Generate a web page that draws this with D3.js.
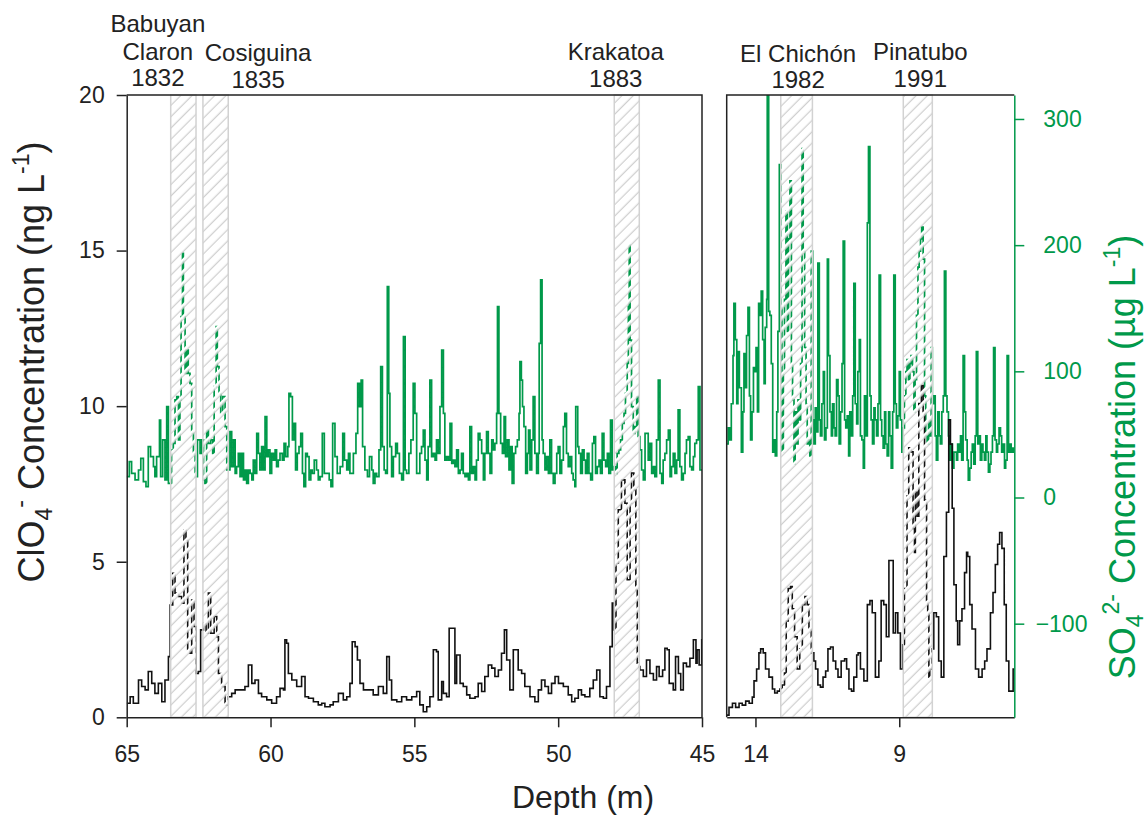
<!DOCTYPE html>
<html><head><meta charset="utf-8">
<script src="https://cdn.jsdelivr.net/npm/d3@7"></script>
<style>body{margin:0;background:#fff} text{font-family:"Liberation Sans",Arial,sans-serif}</style>
</head><body>
<svg id="c" width="1147" height="815"></svg>
<script>
// ---------- DATA ----------
// Left panel (depth 65-45 m): perchlorate (ng/L)
const leftDepthClO4 = [65.00,64.88,64.77,64.59,64.48,64.36,64.25,64.13,64.02,63.90,63.78,63.67,63.55,63.49,63.40,63.32,63.20,63.09,63.01,62.94,62.88,62.80,62.74,62.66,62.59,62.51,62.43,62.33,62.24,62.16,62.08,61.96,61.87,61.81,61.70,61.58,61.47,61.35,61.23,61.06,60.89,60.77,60.65,60.54,60.42,60.31,60.13,59.96,59.79,59.67,59.55,59.50,59.44,59.38,59.26,59.09,58.92,58.80,58.68,58.51,58.34,58.22,58.11,57.93,57.82,57.64,57.47,57.35,57.24,57.16,57.06,56.98,56.89,56.77,56.60,56.43,56.25,56.08,55.96,55.87,55.79,55.61,55.44,55.27,55.09,
54.92,54.81,54.69,54.57,54.46,54.34,54.23,54.17,54.05,53.99,53.88,53.79,53.67,53.59,53.53,53.41,53.30,53.18,53.07,52.89,52.78,52.66,52.55,52.43,52.31,52.20,52.08,51.97,51.87,51.79,51.68,51.56,51.47,51.39,51.27,51.16,50.98,50.81,50.69,50.58,50.46,50.34,50.23,50.11,49.99,49.82,49.65,49.53,49.42,49.30,49.19,49.07,48.90,48.78,48.66,48.55,48.43,48.32,48.20,48.12,48.06,47.99,47.91,47.80,47.68,47.60,47.50,47.45,47.37,47.30,47.25,47.19,47.16,47.04,46.93,46.81,46.69,46.58,46.49,46.37,46.29,46.21,46.14,46.00,45.92,45.82,45.74,45.65,45.54,45.42,45.30,45.21,45.17,45.10,45.01,45.00];
const leftClO4 = [0.45,0.66,0.45,1.20,0.99,0.88,1.47,1.09,0.77,1.09,0.50,1.20,1.95,3.61,4.63,3.99,3.88,3.67,6.02,5.70,2.17,2.06,3.77,2.92,1.41,1.47,2.81,3.02,2.70,3.99,2.70,3.24,2.59,1.41,0.99,0.40,0.66,0.77,0.88,0.88,0.99,1.68,1.09,1.20,0.77,0.66,0.56,0.45,0.66,0.93,0.88,2.49,2.38,1.41,1.20,0.99,1.31,0.66,0.61,0.50,0.40,0.45,0.34,0.40,0.50,0.77,0.56,0.66,1.09,2.43,2.27,1.84,1.09,0.88,0.88,0.72,0.99,0.77,1.95,1.20,0.56,0.50,0.66,0.56,0.66,
0.83,0.40,0.18,0.34,0.66,2.17,2.11,0.56,1.15,0.77,0.66,2.86,2.86,1.09,2.00,1.09,0.99,0.72,0.61,0.66,1.09,0.83,1.31,1.68,1.58,1.31,1.52,2.06,2.81,1.84,0.88,2.17,2.17,1.52,1.41,0.99,0.66,0.50,0.88,1.20,0.99,0.77,1.09,1.31,1.09,0.99,0.72,0.50,0.61,0.88,0.72,0.66,0.93,1.20,1.52,0.66,0.61,0.99,2.27,3.67,2.81,4.95,6.67,7.63,6.88,4.42,6.88,7.85,7.31,4.09,1.74,1.63,1.52,1.31,1.84,1.41,1.20,1.63,1.31,1.52,2.22,2.17,1.09,0.88,1.95,1.41,0.88,1.74,1.63,1.90,2.49,1.74,2.17,1.68,2.49,2.49];

// Left panel: sulfate (µg/L)
const leftDepthSO4 = [65.00,64.91,64.83,64.71,64.59,64.51,64.42,64.33,64.25,64.17,64.07,64.02,63.96,63.86,63.82,63.75,63.67,63.61,63.55,63.49,63.44,63.38,63.32,63.26,63.20,63.15,63.11,63.06,63.03,62.97,62.91,62.86,62.80,62.74,62.68,62.62,62.54,62.45,62.39,62.33,62.28,62.22,62.16,62.08,62.01,61.96,61.89,61.85,61.79,61.73,61.66,61.58,61.52,61.47,61.41,61.35,61.29,61.23,61.18,61.12,61.06,61.00,60.94,60.89,60.83,60.77,60.71,60.65,60.60,60.54,60.48,60.42,60.37,60.31,60.25,60.19,60.13,60.08,60.02,59.96,59.90,59.84,59.79,59.73,59.67,59.59,59.53,59.47,59.40,59.36,59.30,59.24,59.18,59.13,59.07,59.01,58.95,58.89,58.84,58.78,58.72,58.66,58.60,58.55,58.48,58.40,58.34,58.28,58.20,58.13,58.05,57.96,57.90,57.84,57.76,57.68,57.58,57.49,57.43,57.35,57.29,57.24,57.12,57.03,56.97,56.91,56.85,56.80,56.72,56.63,56.56,56.48,56.43,56.37,56.31,56.23,56.17,56.11,56.05,56.00,55.94,55.89,55.85,55.79,55.73,55.65,55.59,55.52,55.44,55.38,55.32,55.27,55.19,55.12,55.04,54.98,
54.92,54.86,54.81,54.75,54.69,54.63,54.57,54.52,54.46,54.40,54.34,54.28,54.23,54.17,54.11,54.05,53.99,53.94,53.88,53.82,53.76,53.70,53.65,53.59,53.53,53.47,53.41,53.36,53.30,53.24,53.18,53.12,53.07,53.01,52.95,52.89,52.84,52.78,52.72,52.66,52.60,52.55,52.49,52.43,52.37,52.31,52.26,52.20,52.14,52.11,52.06,52.00,51.94,51.88,51.83,51.77,51.71,51.65,51.60,51.54,51.48,51.42,51.36,51.33,51.28,51.24,51.19,51.13,51.07,51.03,50.98,50.92,50.87,50.81,50.75,50.69,50.66,50.61,50.56,50.52,50.46,50.40,50.34,50.29,50.23,50.17,50.11,50.05,50.00,49.94,49.88,49.82,49.77,49.71,49.65,49.59,49.53,49.48,49.42,49.39,49.32,49.28,49.22,49.16,49.10,49.05,48.99,48.93,48.87,48.81,48.76,48.70,48.64,48.58,48.53,48.47,48.41,48.35,48.29,48.24,48.18,48.12,48.06,48.00,47.95,47.89,47.83,47.77,47.71,47.66,47.60,47.56,47.53,47.50,47.45,47.39,47.33,47.27,47.22,47.16,47.10,47.04,46.98,46.93,46.87,46.81,46.75,46.69,46.64,46.58,46.52,46.46,46.40,46.35,46.29,46.23,46.17,46.11,46.06,46.00,45.94,45.88,45.83,45.77,45.71,45.65,45.59,45.54,45.48,45.42,45.36,45.30,45.25,45.19,45.13,45.07,45.01,45.00];
const leftSO4 = [16.5,28.4,19.2,13.9,21.8,31.0,12.6,8.6,40.3,32.4,24.4,16.5,32.4,61.4,16.5,45.6,13.9,72.0,11.2,11.2,37.7,42.9,77.3,79.9,45.6,77.3,143.3,193.5,143.3,98.4,116.9,98.4,90.5,50.9,35.0,16.5,45.6,35.0,45.6,13.9,11.2,53.5,42.9,45.6,35.0,87.9,135.4,103.7,82.6,66.7,79.9,56.2,21.8,21.8,52.2,24.4,45.6,19.2,24.4,35.0,16.5,35.0,13.9,21.8,11.2,21.8,19.2,13.9,29.7,19.2,50.9,35.0,21.8,40.3,21.8,64.1,32.4,37.7,19.2,35.0,29.7,37.7,24.4,29.7,35.0,29.7,42.9,32.4,40.3,82.6,79.9,45.6,58.8,21.8,35.0,40.3,50.9,19.2,8.6,35.0,32.4,13.9,21.8,19.2,29.7,21.8,13.9,16.5,50.9,19.2,19.2,13.9,8.6,58.8,32.4,19.2,24.4,50.9,29.7,21.8,35.0,19.2,35.0,50.9,90.5,72.0,93.1,40.3,21.8,16.5,32.4,21.8,11.2,19.2,16.5,37.7,103.7,40.3,21.8,19.2,167.1,82.6,40.3,16.5,32.4,42.9,35.0,19.2,13.9,127.5,21.8,19.2,35.0,45.6,90.5,66.7,
19.2,19.2,35.0,40.3,53.5,29.7,13.9,40.3,93.1,32.4,35.0,29.7,45.6,35.0,72.0,116.9,66.7,29.7,32.4,29.7,58.8,27.1,29.7,24.4,37.7,19.2,21.8,35.0,19.2,16.5,19.2,13.9,56.2,19.2,24.4,13.9,29.7,50.9,45.6,35.0,13.9,35.0,52.2,35.0,19.2,45.6,37.7,42.9,66.7,151.3,66.7,42.9,35.0,64.1,32.4,45.6,21.8,40.3,11.2,35.0,40.3,45.6,66.7,107.7,93.1,72.0,56.2,19.2,35.0,53.5,21.8,45.6,79.9,35.0,19.2,35.0,122.2,172.4,45.6,35.0,21.8,32.4,19.2,45.6,19.2,11.2,19.2,35.0,40.3,19.2,29.7,56.2,66.7,35.0,24.4,32.4,19.2,13.9,8.6,72.0,40.3,35.0,19.2,37.7,29.7,19.2,35.0,19.2,13.9,42.9,48.2,19.2,24.4,29.7,19.2,50.9,29.7,24.4,35.0,19.2,61.4,21.8,24.4,19.2,35.0,37.7,45.6,58.8,66.7,82.6,106.3,151.3,200.1,124.8,72.0,50.9,56.2,79.9,48.2,37.7,21.8,13.9,50.9,50.9,29.7,42.9,19.2,24.4,16.5,45.6,93.1,19.2,11.2,29.7,35.0,45.6,53.5,16.5,24.4,35.0,19.2,29.7,69.4,24.4,13.9,19.2,35.0,45.6,48.2,24.4,21.8,32.4,42.9,45.6,87.9,21.8,21.8,21.8];

// Right panel (depth 15-5 m): perchlorate (ng/L)
const rightDepthClO4 = [15.00,14.92,14.80,14.69,14.57,14.46,14.34,14.22,14.11,14.05,13.96,13.88,13.82,13.73,13.65,13.53,13.41,13.33,13.24,13.15,13.07,12.99,12.93,12.86,12.78,12.72,12.64,12.55,12.46,12.37,12.28,12.20,12.14,12.06,11.97,11.91,11.83,11.74,11.65,11.56,11.48,11.39,11.30,11.21,11.13,11.02,10.90,10.83,10.75,10.66,10.58,10.48,10.43,10.35,10.23,10.11,10.02,9.94,9.83,9.71,9.63,9.54,9.45,9.36,9.28,9.21,9.13,9.05,8.96,8.88,8.82,8.73,8.67,8.59,8.52,8.47,8.44,8.38,8.32,8.23,8.17,8.12,8.05,8.01,7.97,7.94,7.86,7.80,7.71,7.63,7.54,7.45,7.36,7.28,7.22,7.16,7.10,7.02,6.97,6.90,6.82,6.73,6.66,6.62,6.55,6.47,6.35,6.24,6.12,6.03,5.95,5.83,5.74,5.66,5.58,5.51,5.43,5.35,5.28,5.19,5.11,5.04,5.00];
const rightClO4 = [0.07,0.32,0.45,0.32,0.45,0.39,0.52,0.45,0.65,1.17,1.55,2.07,2.20,2.07,1.55,1.29,0.91,0.78,0.84,0.91,1.04,1.42,3.10,4.14,4.20,3.49,2.59,1.55,2.20,3.62,3.88,3.62,2.84,2.07,1.81,1.55,1.04,0.97,1.29,1.49,2.20,2.26,1.81,1.55,1.29,1.81,1.88,1.55,0.91,0.84,1.29,2.00,2.07,1.55,1.17,3.62,3.75,3.36,1.29,1.81,3.75,3.62,2.59,5.04,5.04,2.71,3.36,2.71,1.55,2.33,4.14,7.11,8.66,8.53,6.07,5.30,7.24,6.46,10.08,10.66,9.82,6.98,3.75,3.36,1.29,1.55,2.20,3.36,3.23,1.81,1.29,5.17,6.59,9.56,8.78,6.72,4.26,3.10,2.33,3.10,3.49,4.65,5.30,5.17,3.62,2.84,1.55,1.29,1.55,1.81,2.20,3.36,4.01,4.91,5.56,5.94,5.43,3.62,1.81,0.84,0.84,1.55,1.55];

// Right panel: sulfate (µg/L)
const rightDepthSO4 = [15.00,14.95,14.90,14.84,14.78,14.75,14.70,14.65,14.61,14.56,14.49,14.44,14.40,14.35,14.31,14.26,14.21,14.17,14.12,14.07,14.03,13.98,13.93,13.89,13.84,13.80,13.75,13.70,13.66,13.61,13.59,13.54,13.50,13.45,13.40,13.36,13.31,13.26,13.22,13.17,13.12,13.08,13.03,12.99,12.94,12.89,12.85,12.80,12.75,12.71,12.66,12.62,12.57,12.52,12.48,12.43,12.38,12.34,12.29,12.24,12.20,12.15,12.11,12.06,12.01,11.97,11.92,11.87,11.83,11.78,11.74,11.69,11.64,11.60,11.55,11.50,11.46,11.41,11.36,11.32,11.27,11.23,11.18,11.13,11.09,11.04,10.99,10.95,10.90,10.86,10.81,10.76,10.72,10.67,10.62,10.58,10.53,10.48,10.44,10.39,10.35,10.30,10.25,10.21,10.16,10.11,10.07,10.02,9.98,9.93,9.88,9.84,9.79,9.74,9.70,9.65,9.61,9.56,9.51,9.47,9.42,9.37,9.33,9.28,9.23,9.19,9.14,9.10,9.05,9.00,8.96,8.91,8.86,8.82,8.77,8.73,8.68,8.63,8.59,8.54,8.49,8.45,8.40,8.35,8.31,8.26,8.22,8.17,8.12,8.08,8.03,7.98,7.94,7.89,7.85,7.80,7.75,7.71,7.66,7.61,7.57,7.52,7.47,7.43,7.38,7.34,7.29,7.24,7.20,7.15,7.10,7.06,7.01,6.97,6.92,6.87,6.83,6.78,6.73,6.69,6.64,6.60,6.55,6.50,6.46,6.41,6.36,6.32,6.27,6.22,6.18,6.13,6.09,6.04,5.99,5.95,5.90,5.85,5.81,5.76,5.72,5.67,5.62,5.58,5.53,5.48,5.44,5.39,5.34,5.30,5.25,5.20,5.16,5.11,5.06,5.02,5.00];
const rightSO4 = [42.4,55.2,45.6,74.3,112.5,153.9,125.2,74.3,115.7,87.0,36.0,67.9,114.1,87.0,128.4,150.7,80.6,45.6,67.9,102.9,99.8,118.9,67.9,153.9,144.3,163.5,125.2,90.2,134.8,157.1,319.5,147.5,144.3,106.1,36.0,45.6,32.9,67.9,131.6,263.8,150.7,36.0,99.8,157.1,227.2,131.6,204.9,251.0,106.1,77.4,26.5,67.9,42.4,77.4,61.5,106.1,276.5,195.3,118.9,74.3,42.4,45.6,32.9,195.3,61.5,42.4,71.1,52.0,185.7,61.5,48.8,74.3,99.8,45.6,55.2,188.9,112.5,67.9,48.8,74.3,55.2,48.8,93.4,80.6,42.4,67.9,106.1,203.3,61.5,55.2,64.7,32.9,67.9,48.8,80.6,169.8,74.3,58.4,99.8,125.2,48.8,45.6,23.3,80.6,48.8,217.6,278.1,80.6,61.5,42.4,71.1,61.5,48.8,74.3,176.2,61.5,48.8,39.2,67.9,42.4,32.9,67.9,48.8,23.3,67.9,176.2,74.3,55.2,64.7,99.8,61.5,36.0,55.2,80.6,99.8,109.3,93.4,106.1,112.5,99.8,67.9,93.4,144.3,182.6,195.3,204.9,214.4,188.9,80.6,48.8,42.4,61.5,48.8,118.9,74.3,80.6,48.8,29.7,67.9,48.8,42.4,67.9,80.6,179.4,80.6,67.9,48.8,29.7,42.4,23.3,36.0,36.0,29.7,42.4,36.0,48.8,29.7,112.5,67.9,45.6,29.7,13.8,23.3,36.0,42.4,26.5,48.8,115.7,42.4,48.8,29.7,42.4,36.0,29.7,48.8,36.0,20.1,26.5,36.0,48.8,118.9,45.6,36.0,42.4,55.2,48.8,36.0,42.4,23.3,29.7,112.5,36.0,42.4,36.0,39.2,36.0,36.0];

// Eruption bands (depth intervals, m)
const volcanoNames = ["Babuyan\nClaron", "Cosiguina", "Krakatoa", "El Chichón", "Pinatubo"];
const volcanoYears = ["1832", "1835", "1883", "1982", "1991"];
const bandTop = [63.47, 62.35, 48.05, 13.12, 8.86];
const bandBottom = [62.59, 61.47, 47.18, 12.02, 7.85];
const bandPanel = ["L", "L", "L", "R", "R"];

// Axis tick values
const leftTicksY = [0, 5, 10, 15, 20];
const leftTicksX = [65, 60, 55, 50, 45];
const rightTicksX = [14, 9];
const rightTicksY = [-100, 0, 100, 200, 300];

// ---------- LAYOUT ----------
const W = 1147, H = 815;
const yTop = 95, yBot = 717.3;
const GREEN = "#00994a";
const svg = d3.select("#c");
svg.append("rect").attr("width", W).attr("height", H).attr("fill", "#fff");

const xL = d3.scaleLinear().domain([65, 45]).range([126.7, 702]);
const xR = d3.scaleLinear().domain([15, 5]).range([726.7, 1014.3]);
const yC = d3.scaleLinear().domain([0, 20]).range([yBot, yTop]);
const yS = d3.scaleLinear().domain([-174.2, 319]).range([yBot, yTop]);

const defs = svg.append("defs");
const pat = defs.append("pattern").attr("id", "hatch")
  .attr("patternUnits", "userSpaceOnUse").attr("width", 8).attr("height", 8)
  .attr("patternTransform", "rotate(45)");
pat.append("rect").attr("x", 0).attr("y", 0).attr("width", 2.8).attr("height", 8).attr("fill", "#fff");
pat.append("rect").attr("x", 2.8).attr("y", 0).attr("width", 1).attr("height", 8).attr("fill", "#c4c4c4");

defs.append("clipPath").attr("id", "clipL").append("rect")
  .attr("x", xL.range()[0]).attr("y", yTop).attr("width", xL.range()[1] - xL.range()[0]).attr("height", yBot - yTop);
defs.append("clipPath").attr("id", "clipR").append("rect")
  .attr("x", xR.range()[0]).attr("y", yTop).attr("width", xR.range()[1] - xR.range()[0]).attr("height", yBot - yTop);

function drawSeries(g, x, y, depths, vals, color, width) {
  const pts = depths.map((d, i) => [d, vals[i]]);
  const line = d3.line().x(p => x(p[0])).y(p => y(p[1])).curve(d3.curveStepAfter);
  g.append("path").attr("d", line(pts)).attr("fill", "none")
    .attr("stroke", color).attr("stroke-width", width).attr("stroke-linejoin", "miter");
}

const gL = svg.append("g").attr("clip-path", "url(#clipL)");
const gR = svg.append("g").attr("clip-path", "url(#clipR)");
drawSeries(gL, xL, yS, leftDepthSO4, leftSO4, GREEN, 1.7);
drawSeries(gL, xL, yC, leftDepthClO4, leftClO4, "#111", 1.6);
drawSeries(gR, xR, yS, rightDepthSO4, rightSO4, GREEN, 1.7);
drawSeries(gR, xR, yC, rightDepthClO4, rightClO4, "#111", 1.6);

// bands
bandTop.forEach((d0, i) => {
  const x = bandPanel[i] === "L" ? xL : xR;
  const x0 = x(d0), x1 = x(bandBottom[i]);
  svg.append("rect").attr("x", x0).attr("y", yTop).attr("width", x1 - x0).attr("height", yBot - yTop)
    .attr("fill", "url(#hatch)").attr("stroke", "#d2d2d2").attr("stroke-width", 1.5);
});

// frames
const frame = svg.append("g").attr("stroke", "#222").attr("stroke-width", 1.5).attr("fill", "none");
frame.append("path").attr("d", `M${xL(65)},${yTop}H${xL(45)}V${yBot}`);
frame.append("path").attr("d", `M${xR(5)},${yTop}H${xR(15)}V${yBot}`);

function styleAxis(g, color, fs) {
  g.select(".domain").attr("stroke", color).attr("stroke-width", 1.5);
  g.selectAll(".tick line").attr("stroke", color).attr("stroke-width", 1.5);
  g.selectAll(".tick text").attr("fill", color).style("font-size", fs + "px")
    .style("font-family", '"Liberation Sans", Arial, sans-serif');
}

const axL = svg.append("g").attr("transform", `translate(${xL(65)},0)`)
  .call(d3.axisLeft(yC).tickValues(leftTicksY).tickSize(10).tickSizeOuter(0).tickPadding(12).tickFormat(d3.format("d")));
styleAxis(axL, "#222", 23);

const axBL = svg.append("g").attr("transform", `translate(0,${yBot})`)
  .call(d3.axisBottom(xL).tickValues(leftTicksX).tickSize(10).tickSizeOuter(0).tickPadding(18).tickFormat(d3.format("d")));
styleAxis(axBL, "#222", 23);

const axBR = svg.append("g").attr("transform", `translate(0,${yBot})`)
  .call(d3.axisBottom(xR).tickValues(rightTicksX).tickSize(10).tickSizeOuter(0).tickPadding(18).tickFormat(d3.format("d")));
styleAxis(axBR, "#222", 23);

const axR = svg.append("g").attr("transform", `translate(${xR(5)},0)`)
  .call(d3.axisRight(yS).tickValues(rightTicksY).tickSize(10).tickSizeOuter(0).tickPadding(19).tickFormat(d3.format("d")));
styleAxis(axR, GREEN, 23);
axR.selectAll(".tick text").attr("dx", d => d < 0 ? "-0.333em" : 0);

// volcano labels
const labelOffset = [-25.5, 42.5, -11, 1.5, 2.5];
const lineBase = [[32, 60, 86], [61, 88], [60, 87], [61.5, 88], [60, 87]];
volcanoNames.forEach((n, i) => {
  const x = bandPanel[i] === "L" ? xL : xR;
  const cx = (x(bandTop[i]) + x(bandBottom[i])) / 2 + labelOffset[i];
  const lines = n.split("\n").concat([volcanoYears[i]]);
  lines.forEach((t, j) => {
    svg.append("text").attr("x", cx).attr("y", lineBase[i][j]).attr("text-anchor", "middle")
      .style("font-size", "24px").attr("fill", "#222").text(t);
  });
});

// axis titles
svg.append("text").attr("x", 583).attr("y", 808).attr("text-anchor", "middle")
  .style("font-size", "32px").attr("fill", "#222").text("Depth (m)");

const tl = svg.append("text").attr("transform", "translate(44,362) rotate(-90)")
  .attr("text-anchor", "middle").style("font-size", "36px").attr("fill", "#222");
tl.append("tspan").text("ClO");
tl.append("tspan").attr("dy", 8).style("font-size", "23px").text("4");
tl.append("tspan").attr("dy", -24).style("font-size", "23px").text("-");
tl.append("tspan").attr("dy", 16).text(" Concentration (ng L");
tl.append("tspan").attr("dy", -15).style("font-size", "23px").text("-1");
tl.append("tspan").attr("dy", 15).text(")");

const tr = svg.append("text").attr("transform", "translate(1135,457) rotate(-90)")
  .attr("text-anchor", "middle").style("font-size", "36px").attr("fill", GREEN);
tr.append("tspan").text("SO");
tr.append("tspan").attr("dy", 8).style("font-size", "23px").text("4");
tr.append("tspan").attr("dy", -24).style("font-size", "23px").text("2-");
tr.append("tspan").attr("dy", 16).text(" Concentration (µg L");
tr.append("tspan").attr("dy", -15).style("font-size", "23px").text("-1");
tr.append("tspan").attr("dy", 15).text(")");
</script>
</body></html>
